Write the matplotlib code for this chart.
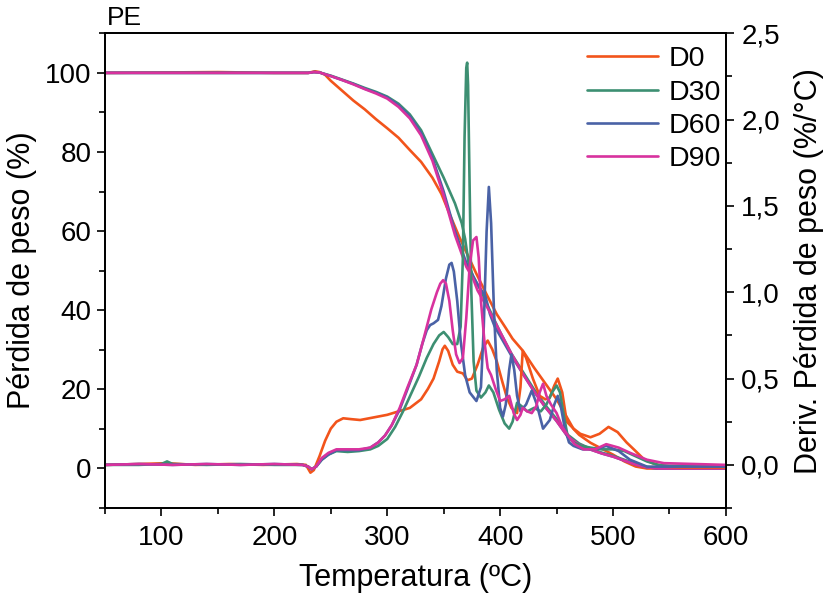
import matplotlib
matplotlib.use("Agg")
import matplotlib.pyplot as plt
from matplotlib.ticker import MultipleLocator, FuncFormatter

plt.rcParams["font.family"] = ["Liberation Sans", "DejaVu Sans"]

samples = ["D0", "D30", "D60", "D90"]
colors = ["#f2541b", "#3d8f72", "#4a62a6", "#d8329e"]

# ---- weight loss (TG), left axis, %
temp_tg_d0 = [50, 100, 150, 200, 230, 236, 240, 245, 250, 260, 270, 280, 290, 300,
              310, 320, 330, 340, 348, 355, 364, 372, 379, 388, 397, 405, 411, 420,
              430, 440, 450, 460, 465, 470, 480, 490, 500, 510, 520, 530, 600]
tg_d0 = [100, 100.1, 100.2, 100, 100, 100.4, 100.2, 99.5, 98, 95.5, 93, 90.8, 88.3, 86,
         83.6, 80.5, 77.5, 73.5, 69.4, 64.5, 58.4, 53.5, 49.2, 44, 39, 35.5, 32.8, 29.8,
         25.5, 21.5, 17.5, 12.5, 10, 8.5, 6.5, 5, 3.5, 1.8, 0.5, 0, 0]

temp_tg_d30 = [50, 100, 150, 200, 230, 235, 240, 250, 260, 270, 280, 290, 300, 310, 320,
               330, 340, 350, 360, 366, 369, 372, 376, 382, 390, 400, 410, 420, 430, 440,
               450, 460, 470, 480, 490, 500, 510, 520, 530, 540, 600]
tg_d30 = [100, 100, 100, 100, 100, 100.2, 100.1, 99.3, 98.3, 97.3, 96.2, 95.2, 94, 92.2, 89.5,
          85.5, 79.5, 73.5, 67, 62, 58, 52, 48.5, 45.5, 40.5, 34.5, 29, 24.5, 20, 16,
          12.5, 8.5, 6.3, 5, 4, 3.2, 2.2, 1.2, 0.4, 0, 0]

temp_tg_d60 = [50, 100, 150, 200, 230, 235, 240, 250, 260, 270, 280, 290, 300, 310, 320,
               330, 340, 350, 360, 370, 380, 387, 391, 395, 400, 410, 420, 430, 440, 450,
               460, 470, 480, 490, 500, 510, 520, 530, 540, 600]
tg_d60 = [100, 100, 100, 100, 100, 100.2, 100.1, 99.2, 98.2, 97.2, 96, 95, 93.8, 91.8, 89,
          84.8, 78.5, 70, 60, 52, 46.5, 43.5, 39, 36, 33.5, 28.5, 24, 19.5, 15.5, 12,
          8, 6, 4.8, 3.8, 3, 2, 1, 0.3, 0, 0]

temp_tg_d90 = [50, 100, 150, 200, 230, 235, 240, 250, 260, 270, 280, 290, 300, 310, 320,
               330, 340, 350, 360, 370, 376, 380, 390, 400, 410, 420, 430, 440, 450,
               460, 470, 480, 490, 500, 510, 520, 530, 540, 600]
tg_d90 = [100, 100, 100, 100, 100, 100.2, 100.1, 99.2, 98.2, 97.1, 95.9, 94.8, 93.5, 91.4, 88.5,
          84.2, 77.8, 69, 59, 51, 48, 45, 40, 34.5, 29, 24, 19.5, 15.5, 12,
          8, 6, 4.8, 3.8, 3, 2, 1, 0.3, 0, 0]

# ---- derivative weight loss (DTG), right axis, %/°C
temp_dtg_d0 = [50, 80, 105, 130, 160, 190, 220, 228, 232, 235, 240, 245, 250, 255, 261, 268,
               276, 284, 292, 300, 310, 320, 330, 336, 341, 346, 349, 351, 354, 358, 362,
               367, 371, 375, 380, 385, 389, 393, 397, 402, 406, 410, 415, 418, 420, 423,
               429, 435, 440, 444, 448, 451, 455, 459, 465, 471, 480, 488, 496, 504, 512,
               520, 527, 535, 545, 560, 600]
dtg_d0 = [0.0, 0.005, 0.01, 0.0, 0.005, 0.0, 0.005, 0.0, -0.045, -0.03, 0.05, 0.14, 0.21,
          0.25, 0.27, 0.265, 0.26, 0.27, 0.28, 0.29, 0.31, 0.33, 0.38, 0.44, 0.5, 0.6, 0.67,
          0.69, 0.66, 0.58, 0.54, 0.53, 0.49, 0.5, 0.58, 0.68, 0.72, 0.67, 0.6, 0.48, 0.39,
          0.33, 0.30, 0.45, 0.66, 0.62, 0.50, 0.40, 0.38, 0.39, 0.46, 0.50, 0.42, 0.25, 0.21,
          0.18, 0.16, 0.18, 0.22, 0.19, 0.13, 0.08, 0.035, 0.01, -0.01, -0.015, -0.015]

temp_dtg_d30 = [50, 80, 100, 105, 110, 140, 170, 200, 225, 230, 233, 237, 242, 248, 255, 265,
                275, 285, 292, 300, 307, 314, 321, 328, 335, 341, 346, 350, 354, 358, 362,
                365, 367, 368.5, 370, 370.8, 371.6, 373, 374.5, 376.5, 379, 383, 387, 390,
                394, 399, 404, 408, 411, 415, 419, 424, 430, 436, 441, 446, 450, 453, 456,
                460, 465, 472, 480, 490, 500, 510, 520, 530, 540, 550, 600]
dtg_d30 = [0.0, 0.0, 0.005, 0.02, 0.005, 0.0, 0.005, 0.0, 0.0, -0.01, -0.025, -0.01, 0.03,
           0.06, 0.08, 0.075, 0.08, 0.09, 0.11, 0.15, 0.22, 0.31, 0.41, 0.51, 0.62, 0.70,
           0.75, 0.77, 0.74, 0.70, 0.70, 0.8, 1.2, 1.9, 2.3, 2.33, 2.2, 1.6, 1.0, 0.6, 0.43,
           0.39, 0.42, 0.46, 0.42, 0.32, 0.24, 0.21, 0.25, 0.36, 0.34, 0.31, 0.33, 0.31,
           0.35, 0.42, 0.46, 0.42, 0.3, 0.16, 0.13, 0.11, 0.1, 0.09, 0.09, 0.08, 0.05, 0.02,
           0.0, -0.005, -0.005]

temp_dtg_d60 = [50, 80, 110, 140, 170, 200, 225, 230, 233, 237, 242, 248, 255, 265, 275, 285,
                292, 298, 304, 311, 318, 326, 331, 335, 338, 341, 345, 348, 352, 355, 357,
                359, 362, 365, 369, 373, 379, 383, 385.5, 388, 390, 392, 394.5, 397, 400,
                402.5, 405, 408, 410, 412.5, 415, 418, 423, 428, 432.5, 438, 444, 448, 451,
                454, 457, 461, 465, 473, 484, 494, 505, 515, 530, 545, 600]
dtg_d60 = [0.0, 0.005, 0.0, 0.005, 0.0, 0.005, 0.0, -0.01, -0.025, -0.01, 0.03, 0.06, 0.085,
           0.085, 0.085, 0.1, 0.13, 0.17, 0.23, 0.32, 0.44, 0.58, 0.70, 0.78, 0.81, 0.82,
           0.84, 0.92, 1.08, 1.16, 1.17, 1.12, 0.95, 0.72, 0.52, 0.42, 0.37, 0.45, 0.8, 1.35,
           1.61, 1.4, 0.9, 0.55, 0.33, 0.28, 0.35, 0.55, 0.64, 0.55, 0.40, 0.31, 0.35, 0.43,
           0.35, 0.21, 0.26, 0.35, 0.40, 0.33, 0.22, 0.13, 0.11, 0.09, 0.09, 0.11, 0.08,
           0.03, -0.01, -0.01, -0.01]

temp_dtg_d90 = [50, 80, 110, 140, 170, 200, 225, 230, 233, 237, 242, 248, 255, 265, 275, 285,
                292, 298, 304, 311, 318, 326, 331, 335, 339, 344, 347, 349.5, 352, 355, 358,
                361, 364, 367, 370, 373, 376, 379, 381, 383, 386, 389, 392, 396, 400, 404,
                408, 412, 415, 418, 420, 424, 428, 432, 435, 438, 441, 445, 450, 455, 460,
                466, 474, 484, 494, 505, 515, 530, 545, 600]
dtg_d90 = [0.0, 0.005, 0.0, 0.005, 0.0, 0.005, 0.0, -0.01, -0.025, -0.01, 0.04, 0.07, 0.09,
           0.09, 0.09, 0.1, 0.13, 0.17, 0.23, 0.33, 0.45, 0.58, 0.70, 0.80, 0.90, 1.0, 1.05,
           1.07, 1.05, 0.95, 0.78, 0.64, 0.59, 0.62, 0.85, 1.15, 1.30, 1.32, 1.2, 0.95, 0.72,
           0.56, 0.52, 0.44, 0.37, 0.38, 0.40, 0.30, 0.26, 0.29, 0.33, 0.31, 0.30, 0.34,
           0.42, 0.47, 0.40, 0.35, 0.30, 0.22, 0.17, 0.12, 0.09, 0.09, 0.12, 0.1, 0.07,
           0.03, 0.01, 0.0]

tg_series = [(temp_tg_d0, tg_d0), (temp_tg_d30, tg_d30),
             (temp_tg_d60, tg_d60), (temp_tg_d90, tg_d90)]
dtg_series = [(temp_dtg_d0, dtg_d0), (temp_dtg_d30, dtg_d30),
              (temp_dtg_d60, dtg_d60), (temp_dtg_d90, dtg_d90)]

fig = plt.figure(figsize=(8.24, 5.97), dpi=100)
ax = fig.add_axes([0.1274, 0.149, 0.7536, 0.7952])
ax2 = ax.twinx()

lw = 1.9
for (t, v), c in zip(tg_series, colors):
    ax.plot(t, v, color=c, lw=lw, solid_capstyle="round", solid_joinstyle="round")
for (t, v), c, name in zip(dtg_series, colors, samples):
    ax2.plot(t, v, color=c, lw=lw, label=name,
             solid_capstyle="round", solid_joinstyle="round")

ax.set_xlim(50, 600)
ax.set_ylim(-10, 110)
ax2.set_ylim(-0.25, 2.5)

ax.xaxis.set_major_locator(MultipleLocator(100))
ax.xaxis.set_minor_locator(MultipleLocator(50))
ax.yaxis.set_minor_locator(MultipleLocator(10))
ax.set_yticks([0, 20, 40, 60, 80, 100])
ax2.yaxis.set_minor_locator(MultipleLocator(0.25))
ax2.set_yticks([0, 0.5, 1.0, 1.5, 2.0, 2.5])
ax2.yaxis.set_major_formatter(FuncFormatter(lambda v, p: f"{v:.1f}".replace(".", ",")))

for a in (ax, ax2):
    a.tick_params(which="major", direction="out", length=6, width=1.2, labelsize=20)
    a.tick_params(which="minor", direction="out", length=4, width=1.2)
    for s in a.spines.values():
        s.set_linewidth(1.3)
ax.tick_params(axis="x", which="both", top=False)
ax.tick_params(axis="x", pad=6)
ax2.tick_params(axis="y", pad=5)

ax.set_xlabel("Temperatura (ºC)", fontsize=22, labelpad=9)
ax.set_ylabel("Pérdida de peso (%)", fontsize=22, labelpad=6)
ax2.set_ylabel("Deriv. Pérdida de peso (%/°C)", fontsize=22, labelpad=10)

ax.text(0.003, 1.008, "PE", transform=ax.transAxes, fontsize=19,
        ha="left", va="bottom")

ax2.legend(loc="upper right", frameon=False, fontsize=20.5, handlelength=2.5,
           handletextpad=0.35, labelspacing=0.26, borderaxespad=0.05,
           bbox_to_anchor=(1.012, 1.0))

fig.savefig("out.png", dpi=100)
